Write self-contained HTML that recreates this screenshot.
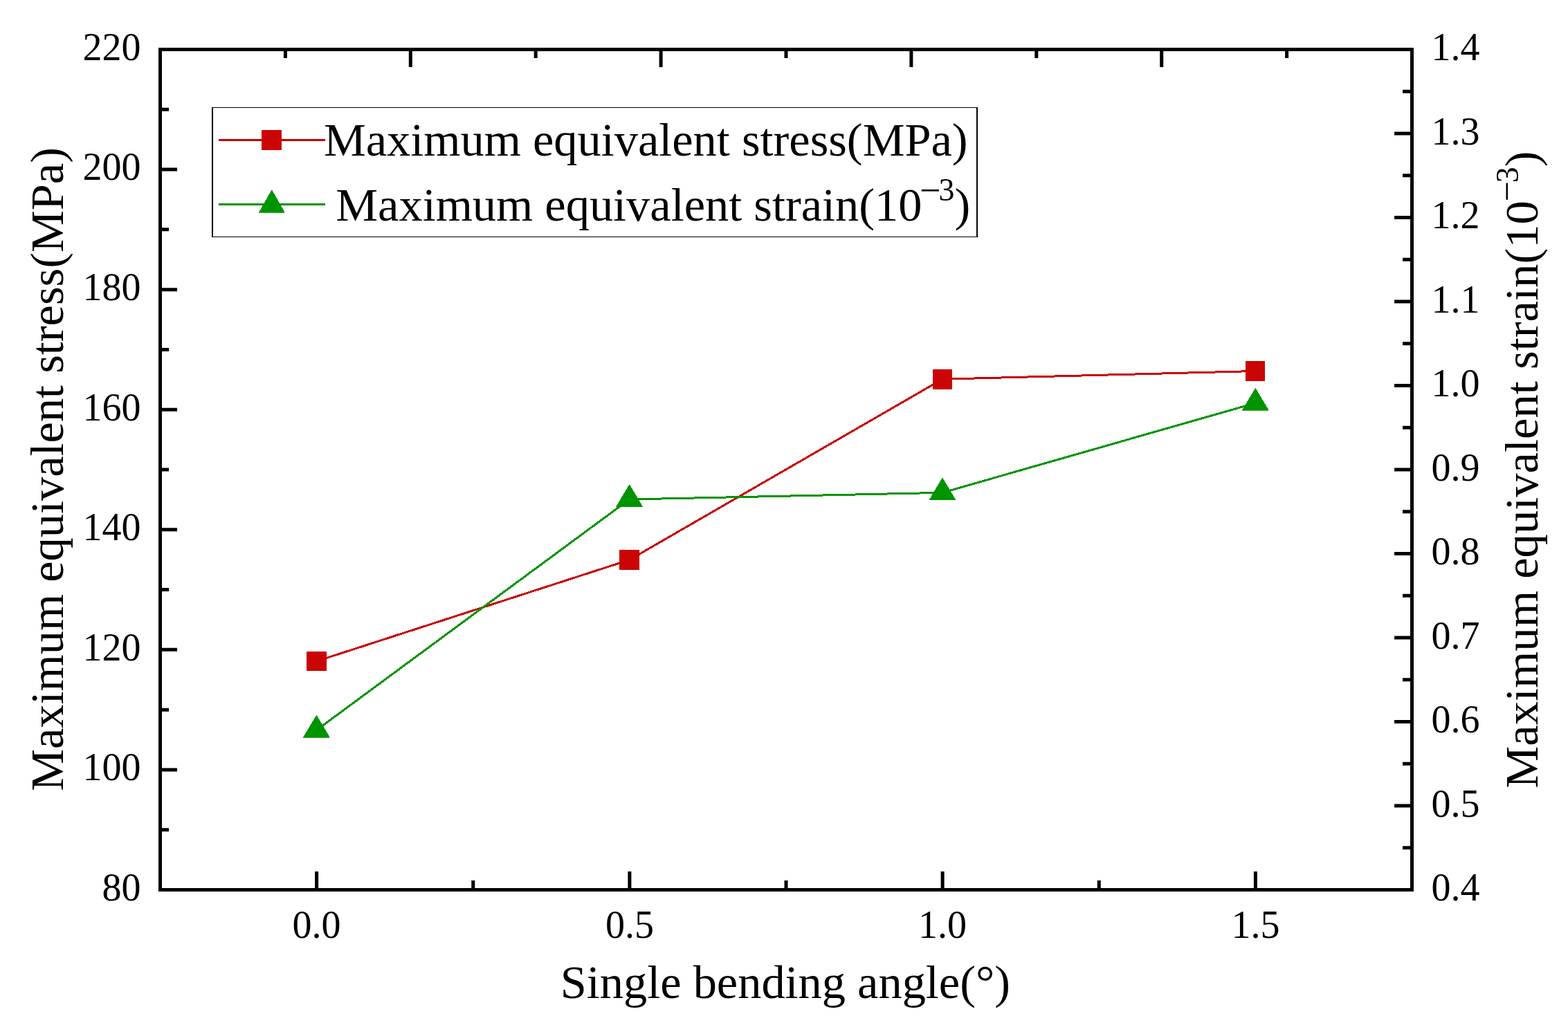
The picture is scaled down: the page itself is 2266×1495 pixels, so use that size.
<!DOCTYPE html>
<html><head><meta charset="utf-8"><title>chart</title>
<style>html,body{margin:0;padding:0;background:#fff;overflow:hidden}svg{display:block}text{font-kerning:none}</style>
</head><body>
<svg width="2266" height="1495" viewBox="0 0 2266 1495">
<rect width="2266" height="1495" fill="#fff"/>
<path d="M231.5 1199.71h12.5M231.5 1112.93h24.5M231.5 1026.14h12.5M231.5 939.36h24.5M231.5 852.57h12.5M231.5 765.79h24.5M231.5 679.00h12.5M231.5 592.21h24.5M231.5 505.43h12.5M231.5 418.64h24.5M231.5 331.86h12.5M231.5 245.07h24.5M231.5 158.29h12.5M2040.5 1225.75h-13.5M2040.5 1165.00h-25.5M2040.5 1104.25h-13.5M2040.5 1043.50h-25.5M2040.5 982.75h-13.5M2040.5 922.00h-25.5M2040.5 861.25h-13.5M2040.5 800.50h-25.5M2040.5 739.75h-13.5M2040.5 679.00h-25.5M2040.5 618.25h-13.5M2040.5 557.50h-25.5M2040.5 496.75h-13.5M2040.5 436.00h-25.5M2040.5 375.25h-13.5M2040.5 314.50h-25.5M2040.5 253.75h-13.5M2040.5 193.00h-25.5M2040.5 132.25h-13.5M457.62 1286.5v-26.5M683.75 1286.5v-13.5M909.88 1286.5v-26.5M1136.00 1286.5v-13.5M1362.12 1286.5v-26.5M1588.25 1286.5v-13.5M1814.38 1286.5v-26.5M593.30 71.5v25.5M955.10 71.5v25.5M1316.90 71.5v25.5M1678.70 71.5v25.5M412.40 71.5v12.5M774.20 71.5v12.5M1136.00 71.5v12.5M1497.80 71.5v12.5M1859.60 71.5v12.5" stroke="#000" stroke-width="5" fill="none"/>
<polyline points="457.5,956 909.5,809.5 1362,548.2 1814,536.5" stroke="#c80000" stroke-width="3" fill="none" shape-rendering="crispEdges"/>
<polyline points="457.4,1055.6 909.6,722 1362,712.3 1814.3,582.7" stroke="#009300" stroke-width="3" fill="none" shape-rendering="crispEdges"/>
<rect x="443.5" y="942.5" width="28" height="27" fill="#cb0505" stroke="#c80000" stroke-width="1"/>
<rect x="895.5" y="795.5" width="28" height="28" fill="#cb0505" stroke="#c80000" stroke-width="1"/>
<rect x="1348.5" y="534.5" width="27" height="28" fill="#cb0505" stroke="#c80000" stroke-width="1"/>
<rect x="1800.5" y="522.5" width="27" height="28" fill="#cb0505" stroke="#c80000" stroke-width="1"/>
<polygon points="457.40,1034.30 438.40,1066.20 476.40,1066.20" fill="#009400" stroke="#009300" stroke-width="0.8" shape-rendering="crispEdges"/>
<polygon points="909.60,700.70 890.60,732.60 928.60,732.60" fill="#009400" stroke="#009300" stroke-width="0.8" shape-rendering="crispEdges"/>
<polygon points="1362.00,691.00 1343.00,722.90 1381.00,722.90" fill="#009400" stroke="#009300" stroke-width="0.8" shape-rendering="crispEdges"/>
<polygon points="1814.30,561.40 1795.30,593.30 1833.30,593.30" fill="#009400" stroke="#009300" stroke-width="0.8" shape-rendering="crispEdges"/>
<rect x="231.5" y="71.5" width="1809.0" height="1215.0" stroke="#000" stroke-width="5" fill="none"/>
<g font-family="Liberation Serif, serif" font-size="56" fill="#000">
<text x="203.4" y="1301.80" text-anchor="end">80</text>
<text x="203.4" y="1128.23" text-anchor="end">100</text>
<text x="203.4" y="954.66" text-anchor="end">120</text>
<text x="203.4" y="781.09" text-anchor="end">140</text>
<text x="203.4" y="607.51" text-anchor="end">160</text>
<text x="203.4" y="433.94" text-anchor="end">180</text>
<text x="203.4" y="260.37" text-anchor="end">200</text>
<text x="203.4" y="86.80" text-anchor="end">220</text>
<text x="2068.5" y="1302.00">0.4</text>
<text x="2068.5" y="1180.50">0.5</text>
<text x="2068.5" y="1059.00">0.6</text>
<text x="2068.5" y="937.50">0.7</text>
<text x="2068.5" y="816.00">0.8</text>
<text x="2068.5" y="694.50">0.9</text>
<text x="2068.5" y="573.00">1.0</text>
<text x="2068.5" y="451.50">1.1</text>
<text x="2068.5" y="330.00">1.2</text>
<text x="2068.5" y="208.50">1.3</text>
<text x="2068.5" y="87.00">1.4</text>
<text x="457.62" y="1356.4" text-anchor="middle">0.0</text>
<text x="909.88" y="1356.4" text-anchor="middle">0.5</text>
<text x="1362.12" y="1356.4" text-anchor="middle">1.0</text>
<text x="1814.38" y="1356.4" text-anchor="middle">1.5</text>
</g>
<g font-family="Liberation Serif, serif" font-size="68.4" fill="#000">
<text x="809.8" y="1442.5">Single bending angle(°)</text>
<text transform="translate(91.1 1143.8) rotate(-90)">Maximum equivalent stress(MPa)</text>
<text transform="rotate(-90)" x="-1139.8" y="2222" font-size="68.6">Maximum equivalent strain(10<tspan x="-291.4" y="2194.6" font-size="51.8">−</tspan><tspan x="-264.2" y="2193.5" font-size="46">3</tspan><tspan x="-241.3" y="2222" font-size="68.6">)</tspan></text>
</g>
<rect x="306" y="155" width="1107" height="188" fill="#fff"/>
<path d="M306 155h1107v1h-1107zM306 342h1107v1h-1107zM306 155h2v188h-2zM1411 155h2v188h-2z" fill="#000"/>
<path d="M316 202.5h154" stroke="#c80000" stroke-width="3"/>
<rect x="378.5" y="188.5" width="28" height="28" fill="#cb0505" stroke="#c80000" stroke-width="1"/>
<path d="M316 295.5h154" stroke="#009300" stroke-width="3"/>
<polygon points="392.8,274.7 374.4,307.3 411.4,307.3" fill="#009400" stroke="#009300" stroke-width="0.8" shape-rendering="crispEdges"/>
<g font-family="Liberation Serif, serif" font-size="68.4" fill="#000">
<text x="467.9" y="225.1">Maximum equivalent stress(MPa)</text>
<text x="468.2" y="319.1" xml:space="preserve"> Maximum equivalent strain(10<tspan x="1329" y="292.5" font-size="54">−</tspan><tspan x="1356.5" y="289.7" font-size="46">3</tspan><tspan x="1379.6" y="319.1">)</tspan></text>
</g>
</svg>
</body></html>
